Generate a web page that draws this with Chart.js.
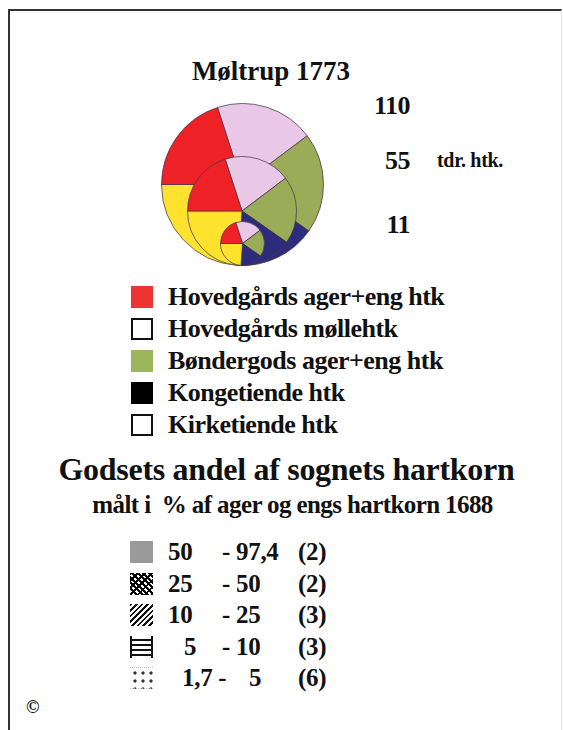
<!DOCTYPE html>
<html lang="da">
<head>
<meta charset="utf-8">
<title>Møltrup 1773</title>
<script src="https://cdn.jsdelivr.net/npm/chart.js@4.4.0/dist/chart.umd.min.js"></script>
<style>
  body { margin: 0; background: #fff; }
  #page {
    position: relative; width: 563px; height: 730px; overflow: hidden;
    font-family: "Liberation Serif", "Times New Roman", serif; font-weight: bold; color: #111;
  }
  #frame {
    position: absolute; left: 8px; top: 9px; width: 551px; height: 740px;
    border-top: 2px solid #333; border-left: 2px solid #333; border-right: 1px solid #e4e4e4;
  }
  .t { position: absolute; white-space: pre; line-height: 1; }
  .pie { position: absolute; }
  .box { position: absolute; width: 22px; height: 22px; box-sizing: border-box; }
</style>
</head>
<body>
<div id="page">
  <div id="frame"></div>
  <div class="t" style="left:0;width:542px;text-align:center;top:58px;font-size:27px;">Møltrup 1773</div>
  <div id="scaleLabels"></div>
  <div class="t" style="left:437px;top:150px;font-size:20px;letter-spacing:-0.3px;">tdr. htk.</div>
  <div id="legendA"></div>
  <div class="t" style="left:0;width:573px;text-align:center;top:453px;font-size:32px;letter-spacing:-0.3px;">Godsets andel af sognets hartkorn</div>
  <div class="t" style="left:0;width:585px;text-align:center;top:492px;font-size:25px;letter-spacing:-0.6px;">målt i  % af ager og engs hartkorn 1688</div>
  <div id="legendB"></div>
  <div class="t" style="left:26px;top:698px;font-size:18px;">©</div>
</div>

<script>
// 圆の大きさ (tdr. htk.)
const circleValues = [110, 55, 11];
const circleLabelTops = [93, 148, 212];

// 扇形 (度数, 12時から時計回り)
const sliceLabels = ['Hovedgårds møllehtk', 'Bøndergods ager+eng htk', 'Kongetiende htk', 'Kirketiende htk', 'Hovedgårds ager+eng htk'];
const sliceDegrees = [71, 72, 59, 86, 72];
const sliceColors = ['#e8c8e6', '#9aac58', '#2d2c7c', '#ffe22e', '#ee2226'];
const startAngle = -18;

// 凡例1
const legendA = ['Hovedgårds ager+eng htk', 'Hovedgårds møllehtk', 'Bøndergods ager+eng htk', 'Kongetiende htk', 'Kirketiende htk'];
const legendAColors = ['#ee3333', '#ffffff', '#9bb75a', '#000000', '#ffffff'];

// 凡例2
const legendBFrom = ['50', '25', '10', '5', '1,7 -'];
const legendBTo = ['- 97,4', '- 50', '- 25', '- 10', '5'];
const legendBCount = ['(2)', '(2)', '(3)', '(3)', '(6)'];

const page = document.getElementById('page');

// 比例円の半径
function radiusFor(v) {
  return 81 * Math.pow(v / circleValues[0], 0.57);
}

// 円グラフを作成 (下端を揃える)
function makePie(value) {
  const r = radiusFor(value);
  const size = Math.round(2 * r + 1);
  const cv = document.createElement('canvas');
  cv.className = 'pie';
  cv.width = size;
  cv.height = size;
  cv.style.width = size + 'px';
  cv.style.height = size + 'px';
  cv.style.left = (242 - size / 2) + 'px';
  cv.style.top = (266 - size) + 'px';
  page.appendChild(cv);
  return new Chart(cv.getContext('2d'), {
    type: 'pie',
    data: {
      labels: sliceLabels,
      datasets: [{
        data: sliceDegrees,
        backgroundColor: sliceColors,
        borderColor: 'rgba(70, 55, 80, 0.75)',
        borderWidth: 1
      }]
    },
    options: {
      responsive: false,
      animation: false,
      events: [],
      rotation: startAngle,
      layout: { padding: 0 },
      plugins: { legend: { display: false }, tooltip: { enabled: false }, title: { display: false } }
    }
  });
}

circleValues.forEach(v => makePie(v));

// 目盛りラベル
const scaleBox = document.getElementById('scaleLabels');
circleValues.forEach((v, i) => {
  const d = document.createElement('div');
  d.className = 't';
  d.style.left = '300px';
  d.style.width = '110px';
  d.style.textAlign = 'right';
  d.style.top = circleLabelTops[i] + 'px';
  d.style.fontSize = '26px';
  d.style.letterSpacing = '-0.5px';
  d.textContent = String(v);
  scaleBox.appendChild(d);
});

// 凡例1
const legA = document.getElementById('legendA');
legendA.forEach((name, i) => {
  const y = 286 + i * 32;
  const b = document.createElement('div');
  b.className = 'box';
  b.style.left = '131px';
  b.style.top = y + 'px';
  b.style.background = legendAColors[i];
  if (legendAColors[i] === '#ffffff') b.style.border = '2px solid #111';
  legA.appendChild(b);
  const t = document.createElement('div');
  t.className = 't';
  t.style.left = '168px';
  t.style.top = (y - 2) + 'px';
  t.style.fontSize = '26px';
  t.style.letterSpacing = '-0.5px';
  t.textContent = name;
  legA.appendChild(t);
});

// 凡例2 のハッチング
const patterns = [
  'background:#9a9a9a;',
  'background-color:#fff;background-image:repeating-linear-gradient(45deg,#000 0 2px,transparent 2px 4px),repeating-linear-gradient(-45deg,#000 0 2px,transparent 2px 5px);',
  'background:repeating-linear-gradient(-45deg,#fff 0 2px,#111 2px 4px);',
  'background:repeating-linear-gradient(0deg,#fff 0 2px,#111 2px 3.5px,#fff 3.5px 5px);border-left:2px solid #111;border-right:2px solid #111;',
  'background-image:radial-gradient(circle,#333 0 1.4px,transparent 1.8px);background-size:8px 8px;background-position:1px 1px;border-top:1px dotted #bbb;border-bottom:1px dotted #bbb;'
];
const legB = document.getElementById('legendB');
legendBFrom.forEach((from, i) => {
  const y = 541 + i * 31.5;
  const b = document.createElement('div');
  b.className = 'box';
  b.style.cssText = 'left:130px;top:' + y + 'px;width:23px;height:22px;' + patterns[i];
  legB.appendChild(b);
  const cols = [
    [i === 3 ? 184 : (i === 4 ? 182 : 168), from],
    [i === 4 ? 249 : 222, legendBTo[i]],
    [298, legendBCount[i]]
  ];
  cols.forEach(([x, txt]) => {
    const t = document.createElement('div');
    t.className = 't';
    t.style.left = x + 'px';
    t.style.top = (y - 2) + 'px';
    t.style.fontSize = '25px';
    t.style.letterSpacing = '-0.3px';
    t.textContent = txt;
    legB.appendChild(t);
  });
});
</script>
</body>
</html>
